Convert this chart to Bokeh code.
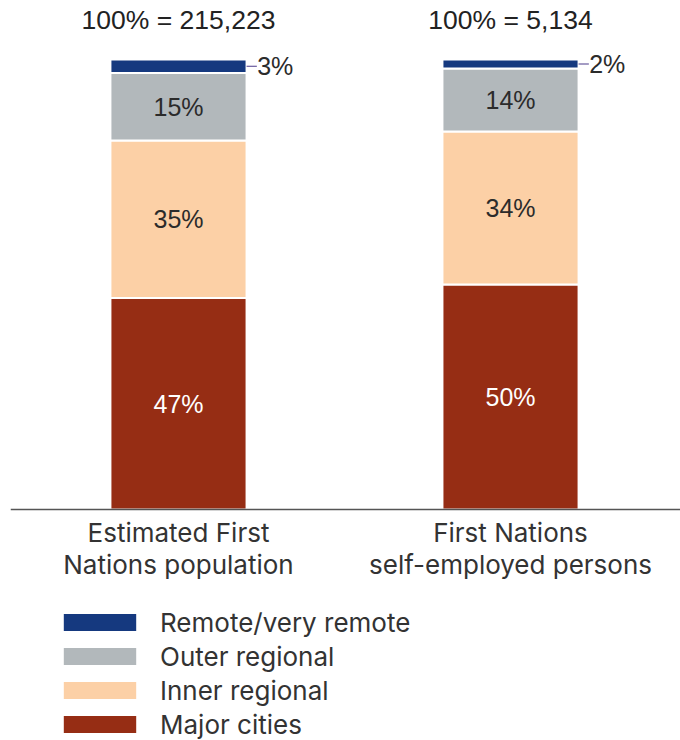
from bokeh.plotting import figure
from bokeh.models import Range1d, ColumnDataSource, Legend, LegendItem, Span
from bokeh.core.properties import value
from bokeh.embed import file_html
from bokeh.resources import INLINE

# ---- data ----
categories = ["Estimated First\nNations population", "First Nations\nself-employed persons"]
totals = ["100% = 215,223", "100% = 5,134"]
series = ["Major cities", "Inner regional", "Outer regional", "Remote/very remote"]
major_cities = [47, 50]
inner_regional = [35, 34]
outer_regional = [15, 14]
remote = [3, 2]
colors = ["#962d14", "#fcd0a6", "#b2b8bb", "#15397f"]
label_colors = ["white", "#2b2b2b", "#2b2b2b", "#2b2b2b"]

NUM_FONT = "Liberation Sans"
TXT_FONT = "Inter"
xs = list(range(len(categories)))
values = [major_cities, inner_regional, outer_regional, remote]

p = figure(width=680, height=740, output_backend="svg", toolbar_location=None,
           x_range=Range1d(-0.506, 1.512), y_range=Range1d(-51.33, 113.11),
           min_border_left=10, min_border_right=0, min_border_top=0, min_border_bottom=0)
p.axis.visible = False
p.grid.visible = False
p.outline_line_color = None
p.background_fill_color = "white"
p.border_fill_color = "white"

data = {"x": xs}
for name, vals in zip(series, values):
    data[name] = vals
src = ColumnDataSource(data)
rs = p.vbar_stack(series, x="x", width=0.41, source=src, color=colors,
                  line_color="white", line_width=2)

# baseline
p.add_layout(Span(location=0, dimension="width", line_color="#555555", line_width=1.5))

# segment labels
bottoms = [0] * len(xs)
for si, vals in enumerate(values):
    for i, v in enumerate(vals):
        mid = bottoms[i] + v / 2
        if si == len(values) - 1:
            p.segment(x0=[xs[i] + 0.205], y0=[mid], x1=[xs[i] + 0.236], y1=[mid],
                      line_color="#4b3a8a", line_width=1.2)
            p.text(x=[xs[i] + 0.237], y=[mid], text=[f"{v}%"], text_font=value(NUM_FONT),
                   text_font_size="25px", text_color="#2b2b2b", text_align="left",
                   text_baseline="middle")
        else:
            p.text(x=[xs[i]], y=[mid], text=[f"{v}%"], text_font=value(NUM_FONT),
                   text_font_size="25px", text_color=label_colors[si], text_align="center",
                   text_baseline="middle")
        bottoms[i] += v

# totals above bars
p.text(x=xs, y=[108.7] * len(xs), text=totals, text_font=value(NUM_FONT), text_font_size="26.5px",
       text_color="#222222", text_align="center", text_baseline="middle")

# category labels
p.text(x=xs, y=[-1.7] * len(xs), text=categories, text_font=value(TXT_FONT), text_font_size="26px",
       text_color="#333333", text_align="center", text_baseline="top", text_line_height=1.02)

# legend
items = [LegendItem(label=series[k], renderers=[rs[k]]) for k in reversed(range(len(series)))]
legend = Legend(items=items, location=(43, 0.5), orientation="vertical",
                glyph_width=93, glyph_height=24, label_standoff=14, spacing=3,
                label_text_font=TXT_FONT, label_text_font_size="26px", label_text_color="#333333",
                label_height=24, padding=0, margin=0, border_line_color=None,
                background_fill_alpha=0)
p.add_layout(legend)

open("out.html", "w").write(file_html(p, INLINE))
